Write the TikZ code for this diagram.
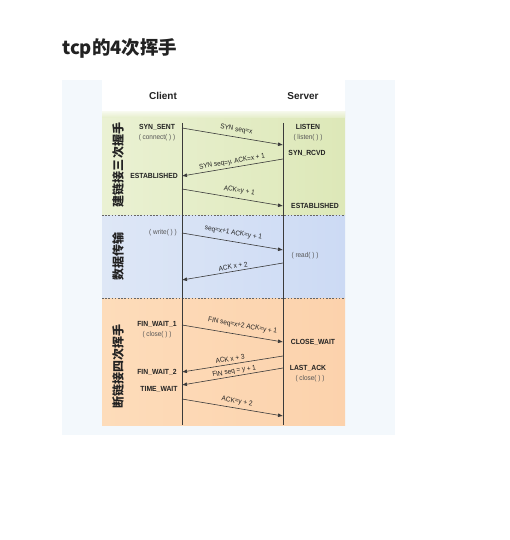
\documentclass[tikz,border=0pt]{standalone}
\usepackage{fontspec}
\usetikzlibrary{arrows.meta}
\newfontfamily\lab[FakeStretch=0.92]{Liberation Sans}
\newfontfamily\labw{Liberation Sans}
\newfontfamily\cjk{Noto Sans CJK SC}
\definecolor{outerbg}{HTML}{F3F8FC}
\definecolor{gL}{HTML}{EAF1D3}
\definecolor{gR}{HTML}{DDE8B8}
\definecolor{bL}{HTML}{DEE7F6}
\definecolor{bR}{HTML}{CCDAF4}
\definecolor{oL}{HTML}{FDDCBA}
\definecolor{oR}{HTML}{FCD2AC}
\definecolor{ink}{HTML}{222222}
\definecolor{fng}{HTML}{555555}
\definecolor{lineg}{HTML}{3A3A3A}
\tikzset{
  st/.style={font=\lab\bfseries\fontsize{7.4}{8}\selectfont, text=ink, inner sep=0pt},
  fn/.style={font=\lab\fontsize{7}{8}\selectfont, text=fng, inner sep=0pt},
  hd/.style={font=\labw\bfseries\fontsize{10}{12}\selectfont, text=ink, inner sep=0pt},
  vt/.style={font=\cjk\bfseries\fontsize{12}{14}\selectfont, text=ink, rotate=90, inner sep=0pt},
  msg/.style={-{Latex[length=5pt,width=4pt]}, draw=lineg, line width=0.6pt},
  mr/.style={font=\lab\fontsize{7}{8}\selectfont, text=ink, anchor=center, rotate=-9.6, inner sep=0pt},
  mlft/.style={font=\lab\fontsize{7}{8}\selectfont, text=ink, anchor=center, rotate=9.6, inner sep=0pt},
  tl/.style={draw=lineg, line width=0.6pt},
  sep/.style={draw=black!60, line width=0.7pt, dash pattern=on 1.6pt off 1.6pt},
}
\begin{document}
\begin{tikzpicture}[x=1pt,y=-1pt]
\useasboundingbox (0,0) rectangle (509,540);
\fill[white] (0,0) rectangle (509,540);
% title
\node[anchor=west, font=\cjk\bfseries\fontsize{18.5}{20}\selectfont, text=ink, inner sep=0pt] (title) at (62,48) {tcp的4次挥手};
% backgrounds
\fill[outerbg] (62,80) rectangle (395,435);
\fill[white] (102,80) rectangle (345,112);
\shade[left color=gL, right color=gR] (102,112) rectangle (345,215);
\shade[top color=white, bottom color=gL!60!gR, opacity=0.8] (102,110) rectangle (345,118);
\shade[left color=bL, right color=bR] (102,215) rectangle (345,298);
\shade[left color=oL, right color=oR] (102,298) rectangle (345,425);
\draw[sep] (102,215) -- (345,215);
\draw[sep] (102,298) -- (345,298);
% headers
\node[hd] (client) at (163,96) {Client};
\node[hd] (server) at (303,96) {Server};
% timelines
\coordinate (ctop) at (182,123);
\coordinate (cbot) at (182,425);
\coordinate (stop) at (283,123);
\coordinate (sbot) at (283,425);
\draw[tl] (ctop) -- (cbot);
\draw[tl] (stop) -- (sbot);
% phase labels
\node[vt] (ph1) at (118,165) {建链接三次握手};
\node[vt] (ph2) at (118,256) {数据传输};
\node[vt] (ph3) at (118,366) {断链接四次挥手};
% states
\node[st] (synsent) at (157,127) {SYN\_SENT};
\node[fn] (connect) at (157,138) {( connect( ) )};
\node[st] (listen) at (308,127) {LISTEN};
\node[fn] (listenf) at (308,138) {( listen( ) )};
\node[st] (synrcvd) at (307,153) {SYN\_RCVD};
\node[st, anchor=east] (estc) at (178,176) {ESTABLISHED};
\node[st] (ests) at (315,206) {ESTABLISHED};
\node[fn] (write) at (163,233) {( write( ) )};
\node[fn] (read) at (305,256) {( read( ) )};
\node[st] (fw1) at (157,324) {FIN\_WAIT\_1};
\node[fn] (closec) at (157,335) {( close( ) )};
\node[st] (clwait) at (313,342) {CLOSE\_WAIT};
\node[st] (lastack) at (308,368) {LAST\_ACK};
\node[fn] (closes) at (310,379) {( close( ) )};
\node[st] (fw2) at (157,372) {FIN\_WAIT\_2};
\node[st] (tw) at (159,389) {TIME\_WAIT};
% arrow endpoints
\coordinate (c1) at (182,128);  \coordinate (s1) at (283,145);
\coordinate (s2) at (283,159);  \coordinate (c2) at (182,176);
\coordinate (c3) at (182,189);  \coordinate (s3) at (283,206);
\coordinate (c4) at (182,233);  \coordinate (s4) at (283,250);
\coordinate (s5) at (283,263);  \coordinate (c5) at (182,280);
\coordinate (c6) at (182,325);  \coordinate (s6) at (283,342);
\coordinate (s7) at (283,356);  \coordinate (c7) at (182,372);
\coordinate (s8) at (283,368);  \coordinate (c8) at (182,385);
\coordinate (c9) at (182,399);  \coordinate (s9) at (283,416);
% messages
\draw[msg] (c1) -- node[mr, pos=0.525, yshift=7.5pt] {SYN seq=x} (s1);
\draw[msg] (s2) -- node[mlft, pos=0.495, yshift=5.5pt] {SYN seq=y, ACK=x + 1} (c2);
\draw[msg] (c3) -- node[mr, pos=0.555, yshift=7.5pt] {ACK=y + 1} (s3);
\draw[msg] (c4) -- node[mr, pos=0.495, yshift=8.5pt] {seq=x+1 ACK=y + 1} (s4);
\draw[msg] (s5) -- node[mlft, pos=0.485, yshift=4.8pt] {ACK x + 2} (c5);
\draw[msg] (c6) -- node[mr, pos=0.585, yshift=9pt] {FIN seq=x+2 ACK=y + 1} (s6);
\draw[msg] (s7) -- node[mlft, pos=0.515, yshift=5.5pt] {ACK x + 3} (c7);
\draw[msg] (s8) -- node[mlft, pos=0.475, yshift=4.5pt] {FIN seq = y + 1} (c8);
\draw[msg] (c9) -- node[mr, pos=0.535, yshift=6.5pt] {ACK=y + 2} (s9);
\end{tikzpicture}
\end{document}
